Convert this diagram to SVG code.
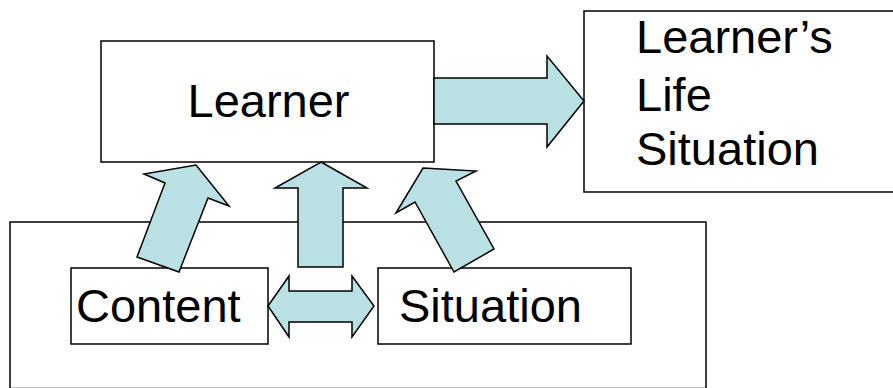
<svg xmlns="http://www.w3.org/2000/svg" width="893" height="388" viewBox="0 0 893 388">
<style>
.box{fill:#fff;stroke:#000;stroke-width:1.5}
.arrow{fill:#b9e0e3;stroke:#000;stroke-width:1.5;stroke-linejoin:miter}
.t{font-family:"Liberation Sans",Arial,sans-serif;font-size:47px;fill:#000}
</style>
<rect width="893" height="388" fill="#fff"/>
<g id="context">
<rect class="box" x="10" y="222" width="696" height="166.5"/>
</g>
<g id="learner">
<rect class="box" x="101" y="41" width="333" height="121"/>
<text class="t" x="268.5" y="117" text-anchor="middle">Learner</text>
</g>
<g id="life-situation">
<rect class="box" x="584" y="11" width="320" height="181"/>
<text class="t" x="636" y="53">Learner’s</text>
<text class="t" x="636" y="111">Life</text>
<text class="t" x="636" y="165">Situation</text>
</g>
<g id="content">
<rect class="box" x="71" y="268" width="197" height="76"/>
<text class="t" x="76" y="322">Content</text>
</g>
<g id="situation">
<rect class="box" x="378" y="268" width="253" height="76"/>
<text class="t" x="399" y="322">Situation</text>
</g>
<g id="connectors">
<polygon class="arrow" points="434,78 547,78 547,56 584,101 547,147 547,124 434,124"/>
<polygon class="arrow" points="268,306 289,276 289,291 352,291 352,276 374,306 352,337 352,322 289,322 289,337"/>
<polygon class="arrow" points="321,162 367,188 343,188 343,267 298,267 298,188 275,188"/>
<polygon class="arrow" points="196,165 229,206 208,198 179,272 137,257 165,183 144,174"/>
<polygon class="arrow" points="423,168 476,171 456,181 494,249 454,272 415,202 396,213"/>
</g>
</svg>
